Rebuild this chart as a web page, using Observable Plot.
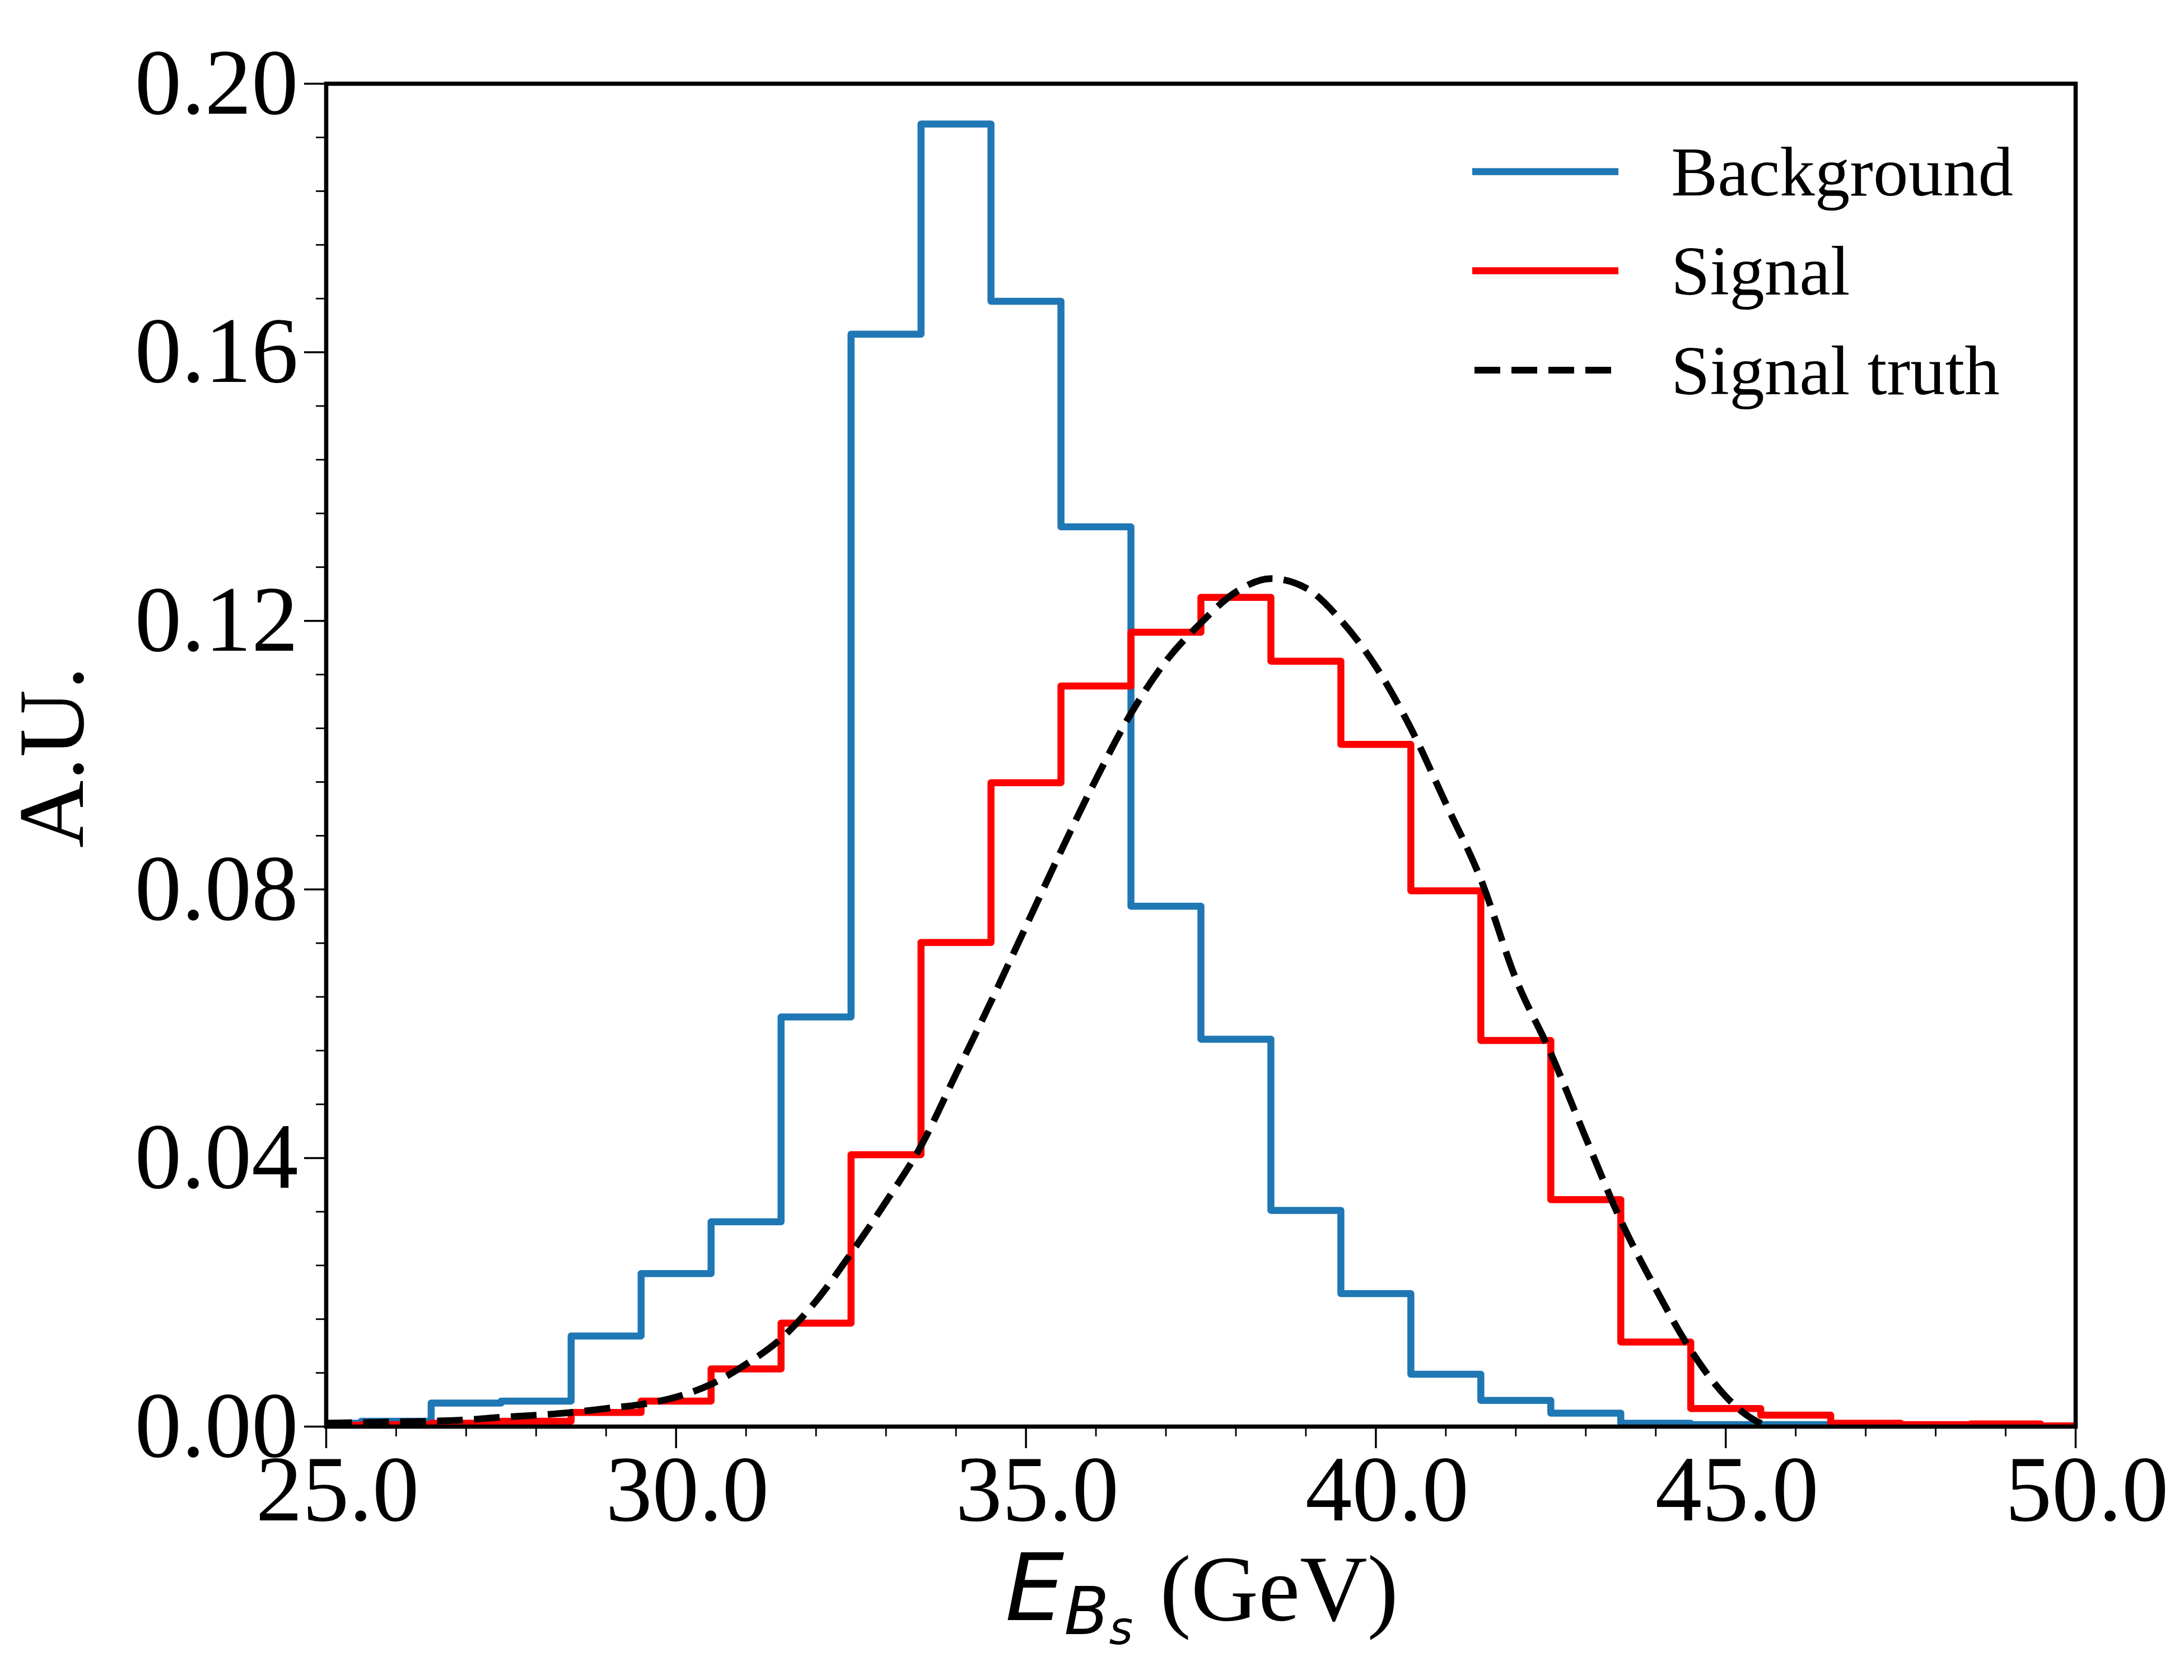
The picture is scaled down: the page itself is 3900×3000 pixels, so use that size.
<!DOCTYPE html>
<html>
<head>
<meta charset="utf-8">
<script src="https://cdn.jsdelivr.net/npm/d3@7"></script>
<script src="https://cdn.jsdelivr.net/npm/@observablehq/plot@0.6"></script>
<style>
  html, body { margin: 0; padding: 0; background: #ffffff; }
  #chart svg { display: block; background: #ffffff; }
</style>
</head>
<body>
<div id="chart"></div>
<script>
// ---------------- data ----------------
const binCenters = [25, 26, 27, 28, 29, 30, 31, 32, 33, 34, 35, 36, 37, 38, 39, 40, 41, 42, 43, 44, 45, 46, 47, 48, 49, 50];
const backgroundValues = [0.0005, 0.0008, 0.0035, 0.0038, 0.0135, 0.0228, 0.0305, 0.0610, 0.1627, 0.1940, 0.1676, 0.1340, 0.0775, 0.0577, 0.0322, 0.0198, 0.0078, 0.0039, 0.0020, 0.0005, 0.0003, 0.0003, 0.0001, 0.0001, 0.0001, 0.0001];
const signalValues = [0.0002, 0.0003, 0.0005, 0.0008, 0.0021, 0.0038, 0.0086, 0.0154, 0.0405, 0.0721, 0.0959, 0.1103, 0.1183, 0.1235, 0.1140, 0.1016, 0.0798, 0.0575, 0.0338, 0.0126, 0.0027, 0.0017, 0.0005, 0.0003, 0.0004, 0.0001];

const truthX = [25.0, 25.5, 26.0, 26.5, 27.0, 27.5, 28.0, 28.5, 29.0, 29.5, 30.0, 30.5, 31.0, 31.5, 32.0, 32.5, 33.0, 33.5, 34.0, 34.5, 35.0, 35.5, 36.0, 36.5, 37.0, 37.5, 38.0, 38.5, 39.0, 39.5, 40.0, 40.5, 41.0, 41.5, 42.0, 42.5, 43.0, 43.5, 44.0, 44.5, 45.0, 45.3, 45.6];
const truthY = [0.0005, 0.0006, 0.0007, 0.0008, 0.0010, 0.0014, 0.0017, 0.0021, 0.0027, 0.0033, 0.0044, 0.0063, 0.0093, 0.0131, 0.0187, 0.0258, 0.0335, 0.0418, 0.0525, 0.0633, 0.0745, 0.0857, 0.0964, 0.1062, 0.1140, 0.1197, 0.1243, 0.1263, 0.1249, 0.1201, 0.1132, 0.1040, 0.0928, 0.0815, 0.0667, 0.0556, 0.0430, 0.0307, 0.0205, 0.0114, 0.0045, 0.0017, 0.0000];

const xMajorTicks = [25, 30, 35, 40, 45, 50];
const xTickLabels = ["25.0", "30.0", "35.0", "40.0", "45.0", "50.0"];
const xMinorTicks = [26, 27, 28, 29, 31, 32, 33, 34, 36, 37, 38, 39, 41, 42, 43, 44, 46, 47, 48, 49];
const yMajorTicks = [0, 0.04, 0.08, 0.12, 0.16, 0.20];
const yTickLabels = ["0.00", "0.04", "0.08", "0.12", "0.16", "0.20"];
const yMinorTicks = [0.008, 0.016, 0.024, 0.032, 0.048, 0.056, 0.064, 0.072, 0.088, 0.096, 0.104, 0.112, 0.128, 0.136, 0.144, 0.152, 0.168, 0.176, 0.184, 0.192];

const seriesNames = ["Background", "Signal", "Signal truth"];
const seriesColors = ["#1f77b4", "#ff0000", "#000000"];

const xLabelMain = "E";
const xLabelSub = "B";
const xLabelSubSub = "s";
const xLabelUnit = "(GeV)";
const yLabel = "A.U.";

// ---------------- build step outlines from bins ----------------
function stepOutline(values) {
  const pts = [];
  pts.push({x: binCenters[0] - 0.5, y: 0});
  binCenters.forEach((c, i) => {
    pts.push({x: c - 0.5, y: values[i]});
    pts.push({x: c + 0.5, y: values[i]});
  });
  pts.push({x: binCenters[binCenters.length - 1] + 0.5, y: 0});
  return pts;
}
const backgroundSteps = stepOutline(backgroundValues);
const signalSteps = stepOutline(signalValues);
const truthCurve = truthX.map((x, i) => ({x, y: truthY[i]}));

const SERIF = "Liberation Serif, Times New Roman, serif";
const TICK_FS = 166.7;
const HIST_W = 12.5;
const TRUTH_W = 12;

const plot = Plot.plot({
  width: 3900,
  height: 3000,
  marginLeft: 582,
  marginRight: 194,
  marginTop: 149,
  marginBottom: 453,
  style: {fontFamily: SERIF, fontSize: TICK_FS + "px", background: "#ffffff", color: "#000000"},
  x: {domain: [25, 50]},
  y: {domain: [0, 0.2]},
  marks: [
    Plot.line(backgroundSteps, {x: "x", y: "y", stroke: seriesColors[0], strokeWidth: HIST_W, clip: true}),
    Plot.line(signalSteps, {x: "x", y: "y", stroke: seriesColors[1], strokeWidth: HIST_W, clip: true}),
    Plot.line(truthCurve, {x: "x", y: "y", stroke: seriesColors[2], strokeWidth: TRUTH_W, strokeDasharray: "46,20", strokeLinecap: "butt", curve: "monotone-x", clip: true}),
    Plot.frame({stroke: "#000000", strokeWidth: 7.5}),
    // x major ticks
    Plot.axisX({ticks: xMajorTicks, tickSize: 39, strokeWidth: 3.5, tickFormat: () => "", label: null}),
    // x major tick labels (slightly offset right, as in the reference)
    Plot.axisX({ticks: xMajorTicks, tickSize: 0, tickPadding: 49, dx: 20, fontSize: TICK_FS, fontFamily: SERIF,
      tickFormat: (d) => xTickLabels[xMajorTicks.indexOf(d)], label: null}),
    // x minor ticks
    Plot.axisX({ticks: xMinorTicks, tickSize: 18, strokeWidth: 2.8, tickFormat: () => "", label: null}),
    // y major ticks + labels
    Plot.axisY({ticks: yMajorTicks, tickSize: 39, tickPadding: 11, strokeWidth: 3.5, fontSize: TICK_FS, fontFamily: SERIF,
      tickFormat: (d) => yTickLabels[yMajorTicks.findIndex(v => Math.abs(v - d) < 1e-9)], label: null}),
    // y minor ticks
    Plot.axisY({ticks: yMinorTicks, tickSize: 18, strokeWidth: 2.8, tickFormat: () => "", label: null})
  ]
});

document.getElementById("chart").appendChild(plot);

// ---------------- axis titles ----------------
const svg = d3.select(plot);

const xl = svg.append("text")
  .attr("x", 2146).attr("y", 2893)
  .attr("text-anchor", "middle")
  .attr("fill", "#000000")
  .attr("font-size", TICK_FS);
xl.append("tspan").attr("font-family", "DejaVu Sans").attr("font-style", "oblique").text(xLabelMain);
xl.append("tspan").attr("font-family", "DejaVu Sans").attr("font-style", "oblique").attr("font-size", 117).attr("dy", 25).text(xLabelSub);
xl.append("tspan").attr("font-family", "DejaVu Sans").attr("font-style", "oblique").attr("font-size", 82).attr("dy", 18).text(xLabelSubSub);
xl.append("tspan").attr("font-family", SERIF).attr("font-size", TICK_FS).attr("dy", -43).attr("dx", 48).text(xLabelUnit);

svg.append("text")
  .attr("transform", "translate(148,1352) rotate(-90)")
  .attr("text-anchor", "middle")
  .attr("font-family", SERIF)
  .attr("font-size", TICK_FS)
  .attr("fill", "#000000")
  .text(yLabel);

// ---------------- legend ----------------
const legendRowsY = [306.5, 483.5, 661];
const lg = svg.append("g").attr("text-anchor", "start");
seriesNames.forEach((name, i) => {
  const y = legendRowsY[i];
  const line = lg.append("line")
    .attr("x1", i === 2 ? 2633 : 2629).attr("x2", 2890)
    .attr("y1", y).attr("y2", y)
    .attr("stroke", seriesColors[i])
    .attr("stroke-width", i === 2 ? TRUTH_W : HIST_W);
  if (i === 2) line.attr("stroke-dasharray", "46,20");
  lg.append("text")
    .attr("x", 2984).attr("y", y + 42.5)
    .attr("text-anchor", "start")
    .attr("font-family", SERIF)
    .attr("font-size", 125)
    .attr("fill", "#000000")
    .text(name);
});
</script>
</body>
</html>
